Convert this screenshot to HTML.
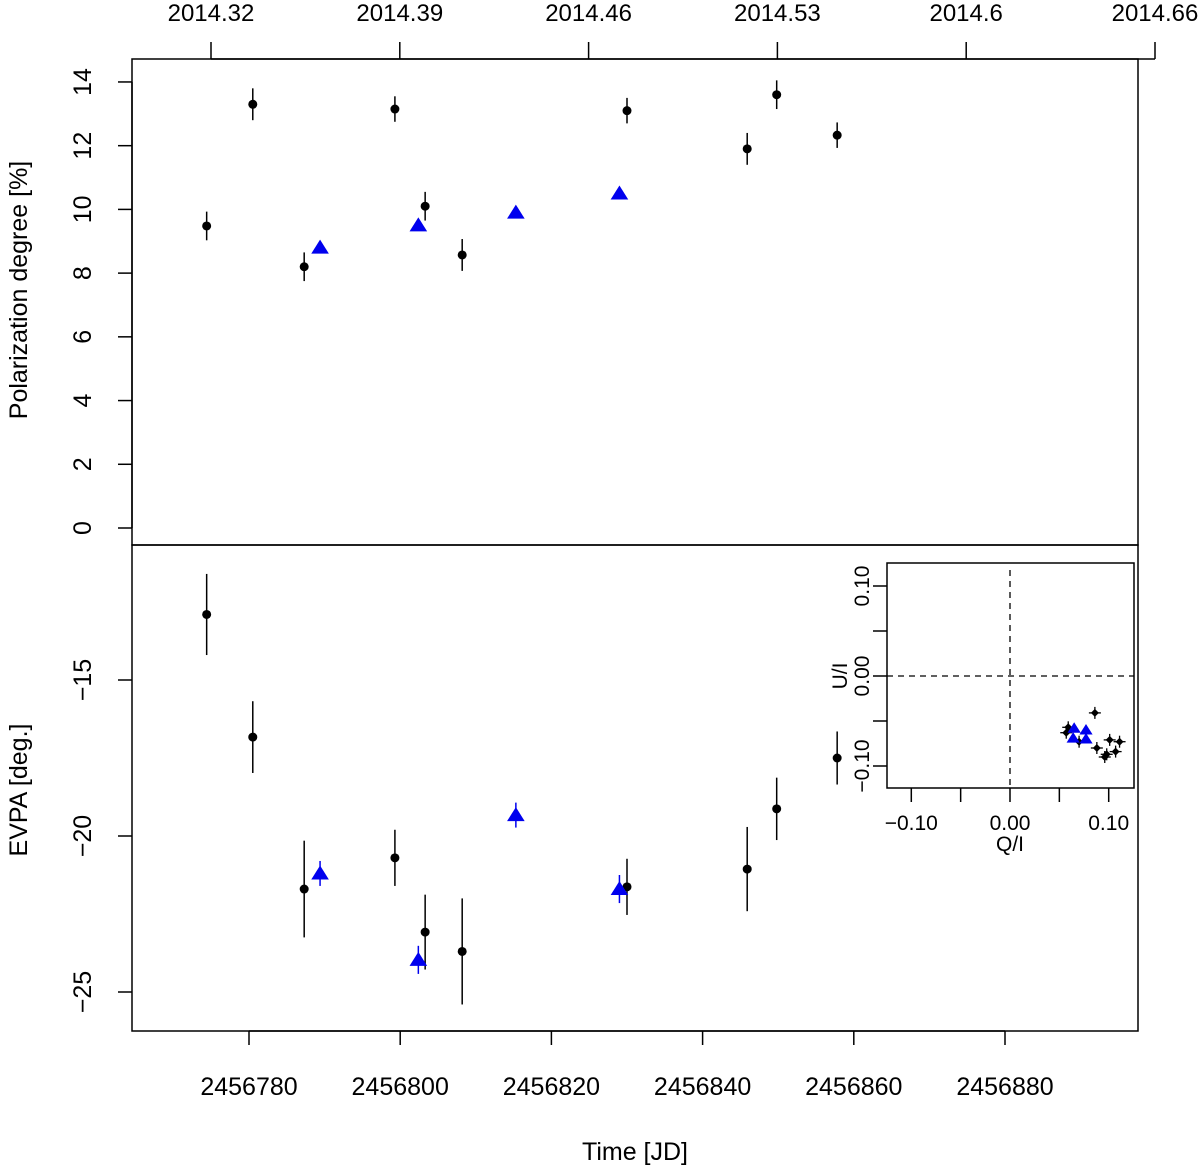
<!DOCTYPE html>
<html><head><meta charset="utf-8"><style>
html,body{margin:0;padding:0;background:#fff;}
svg{display:block;font-family:"Liberation Sans",Arial,sans-serif;}
</style></head><body>
<svg id="chart" width="1200" height="1165" viewBox="0 0 1200 1165" xmlns="http://www.w3.org/2000/svg">
<g id="root"></g>
</svg>
<script>
// ---- data ----
const jdBlack = [2456774.4, 2456780.5, 2456787.3, 2456799.3, 2456803.3, 2456808.2, 2456830.0, 2456845.9, 2456849.8, 2456857.8];
const pdBlack = [9.48, 13.3, 8.2, 13.15, 10.1, 8.57, 13.1, 11.9, 13.6, 12.33];
const pdBlackErr = [0.45, 0.5, 0.45, 0.4, 0.45, 0.5, 0.4, 0.5, 0.45, 0.4];
const evpaBlack = [-12.9, -16.83, -21.7, -20.7, -23.08, -23.7, -21.63, -21.06, -19.13, -17.5];
const evpaBlackErr = [1.3, 1.15, 1.55, 0.9, 1.2, 1.7, 0.9, 1.35, 1.0, 0.85];
const jdBlue = [2456789.4, 2456802.4, 2456815.3, 2456829.0];
const pdBlue = [8.8, 9.5, 9.9, 10.5];
const evpaBlue = [-21.2, -23.97, -19.33, -21.7];
const evpaBlueErr = [0.4, 0.45, 0.4, 0.45];
const qBlack = [0.086, 0.059, 0.057, 0.070, 0.088, 0.101, 0.111, 0.107, 0.098, 0.096];
const uBlack = [-0.041, -0.057, -0.063, -0.073, -0.080, -0.071, -0.073, -0.084, -0.087, -0.090];
const qBlue = [0.065, 0.077, 0.064, 0.077];
const uBlue = [-0.058, -0.060, -0.069, -0.070];
const jdTicks = [2456780, 2456800, 2456820, 2456840, 2456860, 2456880];
const yearTicks = ["2014.32", "2014.39", "2014.46", "2014.53", "2014.6", "2014.66"];
const pdTicks = [0, 2, 4, 6, 8, 10, 12, 14];
const evpaTicks = [-15, -20, -25];
const insetTicks = [-0.10, -0.05, 0.00, 0.05, 0.10];
const insetLabels = ["-0.10", "0.00", "0.10"];

// ---- scales ----
const X = jd => 249 + (jd - 2456780) * 7.56;
const Ypd = v => 528 - v * 31.86;
const Yev = v => 680 + (-15 - v) * 31.2;
const Qx = q => 1010 + q * 987;
const Uy = u => 676 - u * 900;
const yearX = i => 211 + i * 188.8;

const NS = "http://www.w3.org/2000/svg";
const root = document.getElementById('root');
function mk(tag, attrs, parent) {
  const e = document.createElementNS(NS, tag);
  for (const k in attrs) e.setAttribute(k, attrs[k]);
  (parent || root).appendChild(e);
  return e;
}
function txt(x, y, s, size, rot, parent) {
  const t = mk('text', {x: x, y: y, 'font-size': size, 'text-anchor': 'middle', fill: '#000'}, parent);
  if (rot) t.setAttribute('transform', `rotate(-90 ${x} ${y})`);
  t.textContent = s;
  return t;
}
const line = (x1, y1, x2, y2, p, extra) => mk('line', Object.assign({x1, y1, x2, y2, stroke: '#000', 'stroke-width': 1.5}, extra || {}), p);

let e;
e = mk('rect', {x: 132, y: 59, width: 1006, height: 486, fill: 'none', stroke: '#000', 'stroke-width': 1.5});


e = mk('rect', {x: 132, y: 545, width: 1006, height: 486, fill: 'none', stroke: '#000', 'stroke-width': 1.5});



// bottom x axis
const gx = mk('g', {});


line(X(jdTicks[0]), 1031, X(jdTicks[jdTicks.length - 1]), 1031, gx);
jdTicks.forEach(t => { line(X(t), 1031, X(t), 1045, gx); txt(X(t), 1095, String(t), 25, false, gx); });
e = txt(635, 1160, 'Time [JD]', 25);



// top year axis
const gt = mk('g', {});


line(yearX(0), 59, yearX(yearTicks.length - 1), 59, gt);
yearTicks.forEach((s, i) => { line(yearX(i), 59, yearX(i), 42, gt); txt(yearX(i), 21, s, 24, false, gt); });

// PD y axis
const gy = mk('g', {});


line(132, Ypd(0), 132, Ypd(14), gy);
pdTicks.forEach(t => { line(118, Ypd(t), 132, Ypd(t), gy); txt(91, Ypd(t), String(t), 25, true, gy); });
e = txt(27, 290, 'Polarization degree [%]', 25, true);



// EVPA y axis
const ge = mk('g', {});


evpaTicks.forEach(t => { line(118, Yev(t), 132, Yev(t), ge); txt(91, Yev(t), String(t).replace('-', '\u2212'), 25, true, ge); });
e = txt(27, 790, 'EVPA [deg.]', 25, true);



function tri(cx, cy, s, p) {
  return mk('polygon', {points: `${cx},${cy - s} ${cx - s * 1.1},${cy + s * 0.75} ${cx + s * 1.1},${cy + s * 0.75}`, fill: '#0000ee'}, p);
}

// PD series
const gpd = mk('g', {});


jdBlack.forEach((j, i) => {
  line(X(j), Ypd(pdBlack[i] - pdBlackErr[i]), X(j), Ypd(pdBlack[i] + pdBlackErr[i]), gpd);
  const c = mk('circle', {cx: X(j), cy: Ypd(pdBlack[i]), r: 4.5, fill: '#000'}, gpd);
  
  
});
const gpdb = mk('g', {});


jdBlue.forEach((j, i) => {
  const t = tri(X(j), Ypd(pdBlue[i]), 8, gpdb);
  
  
});

// EVPA series
const gev = mk('g', {});


jdBlack.forEach((j, i) => {
  line(X(j), Yev(evpaBlack[i] - evpaBlackErr[i]), X(j), Yev(evpaBlack[i] + evpaBlackErr[i]), gev);
  const c = mk('circle', {cx: X(j), cy: Yev(evpaBlack[i]), r: 4.5, fill: '#000'}, gev);
  
  
});
const gevb = mk('g', {});


jdBlue.forEach((j, i) => {
  mk('line', {x1: X(j), y1: Yev(evpaBlue[i] - evpaBlueErr[i]), x2: X(j), y2: Yev(evpaBlue[i] + evpaBlueErr[i]), stroke: '#0000ee', 'stroke-width': 1.5}, gevb);
  const t = tri(X(j), Yev(evpaBlue[i]), 8, gevb);
  
  
});

// inset
const gi = mk('g', {});


mk('rect', {x: 887, y: 563, width: 247, height: 225, fill: '#fff', stroke: '#000', 'stroke-width': 1.5}, gi);
mk('line', {x1: 887, y1: Uy(0), x2: 1134, y2: Uy(0), stroke: '#000', 'stroke-width': 1.3, 'stroke-dasharray': '6,5'}, gi);
mk('line', {x1: Qx(0), y1: 570, x2: Qx(0), y2: 788, stroke: '#000', 'stroke-width': 1.3, 'stroke-dasharray': '6,5'}, gi);
insetTicks.forEach(t => {
  line(Qx(t), 788, Qx(t), 802, gi);
  line(873, Uy(t), 887, Uy(t), gi);
});
[-0.10, 0.00, 0.10].forEach((t, i) => {
  txt(Qx(t), 830, insetLabels[i].replace('-', '\u2212'), 21, false, gi);
  txt(869, Uy(t), insetLabels[i].replace('-', '\u2212'), 21, true, gi);
});
txt(1010, 851, 'Q/I', 21, false, gi);
txt(847, 676, 'U/I', 21, true, gi);
qBlack.forEach((q, i) => {
  const cx = Qx(q), cy = Uy(uBlack[i]);
  line(cx - 6, cy, cx + 6, cy, gi, {'stroke-width': 1.3});
  line(cx, cy - 6, cx, cy + 6, gi, {'stroke-width': 1.3});
  const d = mk('polygon', {points: `${cx},${cy - 4} ${cx + 4},${cy} ${cx},${cy + 4} ${cx - 4},${cy}`, fill: '#000'}, gi);
  
  
});
qBlue.forEach((q, i) => {
  const t = tri(Qx(q), Uy(uBlue[i]), 6, gi);
  
  
});
</script>
</body></html>
